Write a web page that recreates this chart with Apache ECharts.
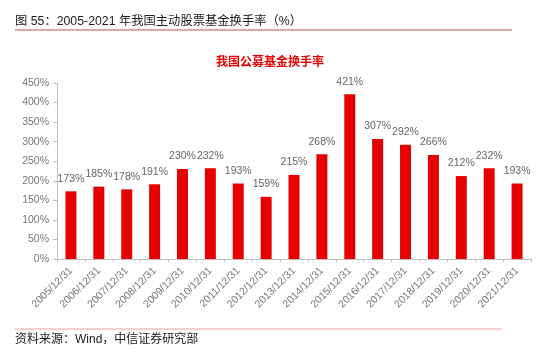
<!DOCTYPE html>
<html><head><meta charset="utf-8">
<script src="https://cdn.jsdelivr.net/npm/echarts@6/dist/echarts.min.js"></script>
<style>html,body{margin:0;padding:0;background:#fff}#c{width:554px;height:360px}</style>
</head><body><div id="c"></div>
<script>
const categories = ['2005/12/31','2006/12/31','2007/12/31','2008/12/31','2009/12/31','2010/12/31','2011/12/31','2012/12/31','2013/12/31','2014/12/31','2015/12/31','2016/12/31','2017/12/31','2018/12/31','2019/12/31','2020/12/31','2021/12/31'];
const turnover = [173,185,178,191,230,232,193,159,215,268,421,307,292,266,212,232,193];
const yTicks = [0,50,100,150,200,250,300,350,400,450];

const chart = echarts.init(document.getElementById('c'));
chart.setOption({
  animation:false,
  backgroundColor:'#fff',
  title:{text:'我国公募基金换手率',left:265,top:50,textAlign:'center',
    textStyle:{color:'#e60000',fontSize:12,fontWeight:'bold',fontFamily:'Noto Sans CJK SC'}},
  graphic:[
    {type:'text',left:15,top:15,style:{text:'图 55：2005-2021 年我国主动股票基金换手率（%）',fill:'#222',fontSize:12.3,fontFamily:'Liberation Sans, Noto Sans CJK SC'}},
    {type:'line',shape:{x1:15,y1:30,x2:512,y2:30},style:{stroke:'#c0504d',lineWidth:1}},
    {type:'line',shape:{x1:15,y1:329,x2:502,y2:329},style:{stroke:'#e8a0a0',lineWidth:1}},
    {type:'text',left:15,top:334,style:{text:'资料来源：Wind，中信证券研究部',fill:'#222',fontSize:12,fontFamily:'Liberation Sans, Noto Sans CJK SC'}}
  ],
  grid:{left:57,right:23,top:83,bottom:101},
  xAxis:{type:'category',data:categories,boundaryGap:true,
    axisLine:{lineStyle:{color:'#bfbfbf'}},
    axisTick:{show:true,lineStyle:{color:'#bfbfbf'},length:3},
    axisLabel:{rotate:45,color:'#777',fontSize:10.5,fontFamily:'Liberation Sans',interval:0,margin:10}},
  yAxis:{type:'value',min:0,max:450,interval:50,
    axisLine:{show:true,lineStyle:{color:'#bfbfbf'}},
    axisTick:{show:true,lineStyle:{color:'#bfbfbf'},length:4},
    splitLine:{show:false},
    axisLabel:{color:'#777',fontSize:10.5,fontFamily:'Liberation Sans',margin:8,
      formatter:v=>yTicks.includes(v)?v+'%':''}},
  series:[{type:'bar',data:turnover,barWidth:11,
    itemStyle:{color:'#e60000'},
    label:{show:true,position:'top',distance:7,color:'#666',fontSize:10.5,fontFamily:'Liberation Sans',formatter:p=>p.value+'%'}}]
});
</script></body></html>
